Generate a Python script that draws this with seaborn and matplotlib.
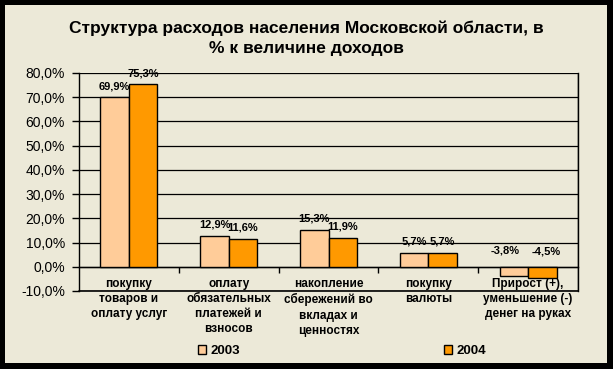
import pandas as pd
import matplotlib
matplotlib.use('Agg')
import matplotlib.pyplot as plt
import matplotlib.patches as mpatches
from matplotlib.ticker import FuncFormatter, FixedLocator
import seaborn as sns

categories = ['покупку\nтоваров и\nоплату услуг',
              'оплату\nобязательных\nплатежей и\nвзносов',
              'накопление\nсбережений во\nвкладах и\nценностях',
              'покупку\nвалюты',
              'Прирост (+),\nуменьшение (-)\nденег на руках']
years = ['2003', '2004']
vals_2003 = [69.9, 12.9, 15.3, 5.7, -3.8]
vals_2004 = [75.3, 11.6, 11.9, 5.7, -4.5]
yticks = [-10, 0, 10, 20, 30, 40, 50, 60, 70, 80]
colors = ['#FFCC99', '#FF9900']
bg = '#ECE9D8'

df = pd.DataFrame({
    'cat': categories * 2,
    'year': [years[0]] * 5 + [years[1]] * 5,
    'val': vals_2003 + vals_2004,
})

sns.set_style('white')
plt.rcParams['font.family'] = ['Liberation Sans', 'DejaVu Sans']
plt.rcParams['text.color'] = 'black'
plt.rcParams['xtick.color'] = 'black'
plt.rcParams['ytick.color'] = 'black'

fig = plt.figure(figsize=(6.13, 3.69), dpi=100, facecolor='black')
# beige panel inside black frame
fig.patches.append(mpatches.Rectangle((5 / 613, 6 / 369), 602 / 613, 358 / 369,
                                      transform=fig.transFigure, facecolor=bg,
                                      edgecolor='none', zorder=-10))

ax = fig.add_axes([79 / 613, 78 / 369, 499 / 613, 218 / 369])
ax.set_facecolor(bg)

sns.barplot(data=df, x='cat', y='val', hue='year', palette=colors, saturation=1,
            edgecolor='black', linewidth=1, width=0.57, ax=ax, zorder=3)

ax.set_xlim(-0.5, 4.5)
ax.set_ylim(-10, 80)

# gridlines
for t in yticks:
    ax.axhline(t, color='black', lw=0.9, zorder=2)

ax.yaxis.set_major_locator(FixedLocator(yticks))
ax.yaxis.set_major_formatter(FuncFormatter(lambda v, p: f'{v:.1f}%'.replace('.', ',')))
ax.tick_params(axis='y', direction='out', length=5, width=1, color='black',
               labelsize=10, pad=5, left=True)

# category axis at zero
ax.spines['bottom'].set_position(('data', 0))
ax.set_xticks(range(5))
ax.set_xticklabels(categories, fontweight='bold', fontsize=8.5, linespacing=1.35)
ax.set_xticks([0.5, 1.5, 2.5, 3.5], minor=True)
ax.tick_params(axis='x', which='major', length=0, pad=8)
ax.tick_params(axis='x', which='minor', direction='out', length=4, width=1,
               color='black', bottom=True)
for s in ax.spines.values():
    s.set_color('black')
    s.set_linewidth(1)
ax.spines['top'].set_visible(False)
ax.axhline(-10, color='black', lw=1.2, zorder=4, clip_on=False)
ax.axvline(4.5, ymin=0, ymax=1, color='black', lw=1, zorder=4)

ax.set_xlabel('')
ax.set_ylabel('')

# value labels
for k, cont in enumerate(ax.containers):
    for bar in cont:
        v = bar.get_height()
        x = bar.get_x() + bar.get_width() / 2
        if v >= 0:
            dx, dy = 0, 8
        else:
            dx, dy = (-6, 12) if k == 0 else (3, 11)
        ax.annotate(f'{v:.1f}%'.replace('.', ','), (x, max(v, 0)),
                    xytext=(dx, dy), textcoords='offset points',
                    ha='center', va='center', fontsize=8, fontweight='bold',
                    zorder=1)

leg = ax.get_legend()
if leg is not None:
    leg.remove()
handles = [mpatches.Patch(facecolor=c, edgecolor='black', lw=1) for c in colors]
fig.legend(handles, years, loc='center', bbox_to_anchor=(0.558, 18 / 369), ncol=2,
           frameon=False, prop={'weight': 'bold', 'size': 9.5},
           handlelength=0.6, handleheight=0.6, handletextpad=0.3,
           columnspacing=15.5)

fig.text(0.5, 1 - 38 / 369,
         'Структура расходов населения Московской области, в\n% к величине доходов',
         ha='center', va='center', fontsize=12.5, fontweight='bold', linespacing=1.4)

fig.savefig('out.png', dpi=100, facecolor='black')
